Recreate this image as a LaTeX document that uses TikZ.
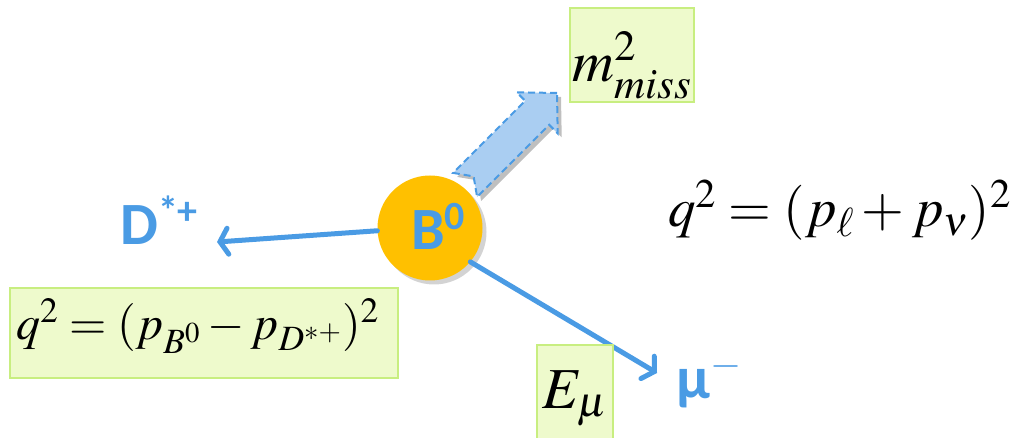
\documentclass[tikz,border=0pt]{standalone}
\usepackage{mathptmx}
\usepackage[no-math]{fontspec}
\newfontfamily\carlito{Carlito}
\usetikzlibrary{arrows.meta,shadows}
\definecolor{pblue}{HTML}{4A9BE4}
\definecolor{lblue}{HTML}{AACEF2}
\definecolor{gfill}{HTML}{EEFACC}
\definecolor{gedge}{HTML}{C8EE80}
\definecolor{borange}{HTML}{FFC000}
\tikzset{
  greenbox/.style={draw=gedge,line width=1.8pt,fill=gfill,inner sep=0pt},
  partarrow/.style={draw=pblue,line width=5pt,line cap=round,
    -{Straight Barb[length=8pt,width=26pt,line cap=round]}},
  plabel/.style={text=pblue,font=\carlito\bfseries\fontsize{60}{64}\selectfont,inner sep=0pt},
  bigmath/.style={font=\fontsize{58}{62}\selectfont,inner sep=0pt},
}
\begin{document}
\begin{tikzpicture}[x=1pt,y=-1pt]
\useasboundingbox (0,0) rectangle (1012,438);
% block arrow (missing momentum)
\fill[black,opacity=0.25,xshift=4pt,yshift=-4pt]
  (557,93) -- (516.7,92.3) -- (525.2,100.8) -- (453.1,172.9) -- (473.6,176.4)
  -- (477.1,196.9) -- (549.2,124.8) -- (557.7,133.3) -- cycle;
\draw[draw=pblue,fill=lblue,line width=2pt,dash pattern=on 7pt off 4pt]
  (557,93) -- (516.7,92.3) -- (525.2,100.8) -- (453.1,172.9) -- (473.6,176.4)
  -- (477.1,196.9) -- (549.2,124.8) -- (557.7,133.3) -- cycle;
% B meson
\node[circle,fill=borange,minimum size=105pt,inner sep=0pt,
  drop shadow={opacity=0.35,shadow xshift=4pt,shadow yshift=-4pt}] (B) at (430,228) {};
\node[plabel,anchor=base] (Blab) at (438,250) {B\raisebox{20pt}{\fontsize{40}{42}\selectfont 0}};
% outgoing particles
\coordinate (Dtip) at (217,242);
\coordinate (Mtip) at (657,373);
\draw[partarrow] (B.183) -- (Dtip);
\draw[partarrow] (B.-40) -- (Mtip);
\node[plabel,anchor=base west] (Dlab) at (120,245) {D\raisebox{20pt}{\fontsize{40}{42}\selectfont *+}};
\node[plabel,anchor=base west] (Mlab) at (676,398) {\textmu\raisebox{22pt}{\fontsize{40}{42}\selectfont $-$}};
% boxes
\node[greenbox,minimum width=124pt,minimum height=94pt] (mbox) at (632,55) {};
\node[bigmath,anchor=base] (mtxt) at (632,82) {$m_{miss}^{2}$};
\node[greenbox,minimum width=388pt,minimum height=90pt] (qbox) at (204,333) {};
\node[bigmath,font=\fontsize{48}{52}\selectfont,anchor=base west] (qtxt) at (16,340)
  {$q^{2}=(p_{B^0}-p_{D^{*+}})^{2}$};
\node[greenbox,minimum width=76pt,minimum height=96pt] (ebox) at (575,393) {};
\node[bigmath,anchor=base] (etxt) at (575,408) {$E_{\mu}$};
% right formula
\node[bigmath,font=\fontsize{55}{60}\selectfont,anchor=base west] (q2) at (668,227) {$q^{2}=(p_{\ell}+p_{\nu})^{2}$};
\end{tikzpicture}
\end{document}
